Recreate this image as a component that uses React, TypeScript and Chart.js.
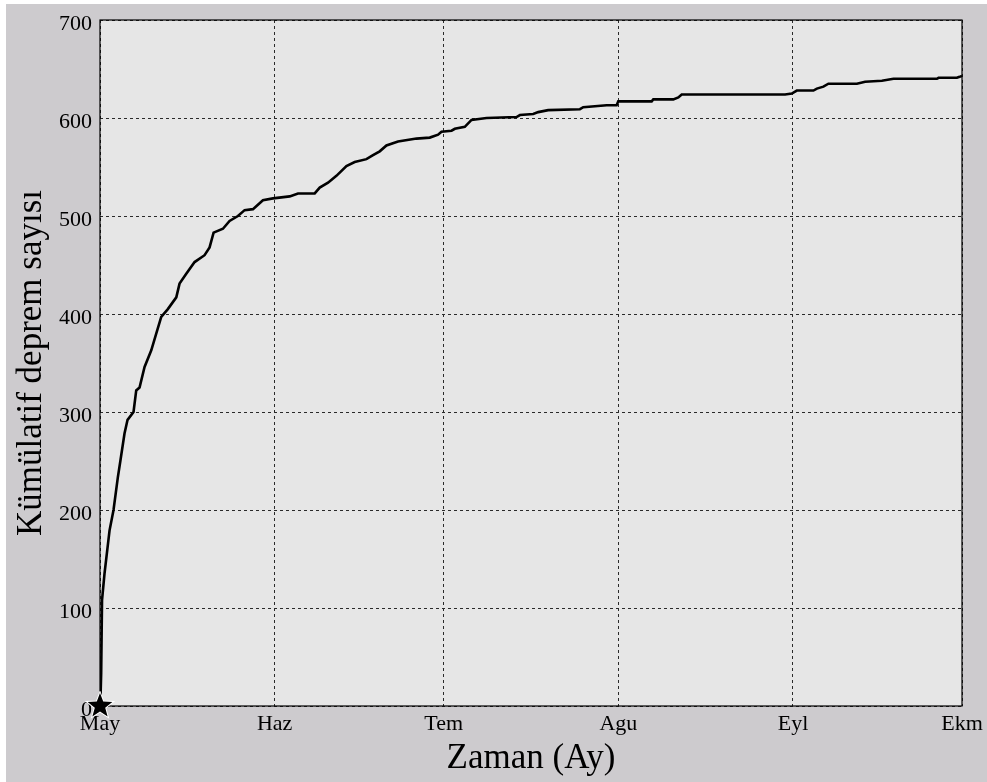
import React, { useEffect, useRef } from "react";
import { Chart, registerables } from "chart.js";

Chart.register(...registerables);

// Days elapsed since 1 May and cumulative number of earthquakes
const dayOffsets = [
  0, 0.1, 0.21, 0.36, 0.8, 1.69, 2.4, 3.16, 3.64, 4.35, 4.89, 5.95, 6.43, 7.02, 7.91,
  9.1, 9.98, 10.87, 12.04, 13.54, 14.12, 15.31, 16.79, 18.56, 19.45, 20.16, 21.82, 23.0,
  24.48, 25.67, 27.15, 28.92, 30.7, 33.67, 35.14, 38.11, 39.0, 40.47, 41.96, 43.74, 45.21,
  47.29, 48.46, 49.65, 50.84, 52.9, 56.17, 58.53, 60.01, 60.61, 62.39, 62.98, 64.75, 65.94,
  68.61, 73.94, 74.53, 76.89, 77.78, 79.55, 85.18, 85.77, 89.93, 91.7, 91.99, 97.92, 98.21,
  101.76, 102.65, 103.25, 121.6, 122.79, 123.68, 126.63, 127.24, 128.4, 129.29, 134.34,
  135.81, 138.78, 140.84, 148.55, 148.83, 152.1, 152.57, 153,
];
const cumulativeCounts = [
  0, 10, 34, 108, 135, 179, 200, 233, 251, 278, 292, 300, 322, 325, 346, 363, 380, 397, 405,
  417, 431, 441, 453, 460, 468, 483, 487, 495, 500, 506, 507, 516, 518, 520, 523, 523, 529,
  534, 541, 551, 555, 558, 562, 566, 572, 576, 579, 580, 583, 586, 587, 589, 591, 598, 600,
  601, 603, 604, 606, 608, 609, 611, 613, 613, 617, 617, 619, 619, 621, 624, 624, 625, 628,
  628, 630, 632, 635, 635, 637, 638, 640, 640, 641, 641, 642, 643,
];

// Main shock marker
const mainShockDay = [0];
const mainShockCount = [0];

// Month boundaries (days since 1 May) and their labels
const monthDays = [0, 31, 61, 92, 123, 153];
const monthLabels = ["May", "Haz", "Tem", "Agu", "Eyl", "Ekm"];

const yMin = 0;
const yMax = 700;
const yStep = 100;

const SERIF = "'Liberation Serif', 'Times New Roman', serif";
const OUTER_BG = "#cdcbce";
const PLOT_BG = "#e6e6e6";

function makeStar(size: number): HTMLCanvasElement {
  const c = document.createElement("canvas");
  c.width = size;
  c.height = size;
  const g = c.getContext("2d")!;
  const cx = size / 2;
  const cy = size / 2;
  const outer = size / 2 - 2;
  const inner = outer * 0.42;
  g.beginPath();
  for (let i = 0; i < 10; i++) {
    const r = i % 2 === 0 ? outer : inner;
    const a = -Math.PI / 2 + (i * Math.PI) / 5;
    const px = cx + r * Math.cos(a);
    const py = cy + r * Math.sin(a);
    if (i === 0) g.moveTo(px, py);
    else g.lineTo(px, py);
  }
  g.closePath();
  g.lineWidth = 2;
  g.strokeStyle = "#ffffff";
  g.stroke();
  g.fillStyle = "#000000";
  g.fill();
  return c;
}

const panelPlugin = {
  id: "panel",
  beforeDraw(chart: any) {
    const { ctx, chartArea, width, height } = chart;
    ctx.save();
    ctx.fillStyle = OUTER_BG;
    ctx.fillRect(0, 0, width, height);
    ctx.fillStyle = PLOT_BG;
    ctx.fillRect(chartArea.left, chartArea.top, chartArea.right - chartArea.left, chartArea.bottom - chartArea.top);
    ctx.restore();
  },
  beforeDatasetsDraw(chart: any) {
    const { ctx, chartArea } = chart;
    ctx.save();
    ctx.strokeStyle = "#000000";
    ctx.lineWidth = 1.2;
    ctx.setLineDash([]);
    ctx.strokeRect(chartArea.left, chartArea.top, chartArea.right - chartArea.left, chartArea.bottom - chartArea.top);
    ctx.restore();
  },
};

export default function App() {
  const canvasRef = useRef<HTMLCanvasElement | null>(null);

  useEffect(() => {
    if (!canvasRef.current) return;
    const star = makeStar(30);
    const chart = new Chart(canvasRef.current, {
      type: "line",
      data: {
        datasets: [
          {
            label: "Kümülatif deprem sayısı",
            data: dayOffsets.map((d, i) => ({ x: d, y: cumulativeCounts[i] })),
            borderColor: "#000000",
            borderWidth: 2.6,
            pointRadius: 0,
            tension: 0,
            fill: false,
            order: 2,
          },
          {
            label: "Ana şok",
            data: mainShockDay.map((d, i) => ({ x: d, y: mainShockCount[i] })),
            showLine: false,
            pointStyle: star as any,
            pointRadius: 15,
            clip: false as any,
            order: 1,
          },
        ],
      },
      plugins: [panelPlugin],
      options: {
        animation: false,
        responsive: false,
        maintainAspectRatio: false,
        devicePixelRatio: 1,
        layout: { padding: { top: 16, right: 25, left: 0, bottom: 0 } },
        plugins: {
          legend: { display: false },
          tooltip: { enabled: false },
        },
        scales: {
          x: {
            type: "linear",
            min: monthDays[0],
            max: monthDays[monthDays.length - 1],
            afterBuildTicks(scale: any) {
              scale.ticks = monthDays.map((v) => ({ value: v }));
            },
            afterFit(scale: any) {
              scale.height = 76;
              scale.paddingLeft = 0;
              scale.paddingRight = 0;
            },
            ticks: {
              autoSkip: false,
              maxRotation: 0,
              padding: 5,
              color: "#000000",
              font: { family: SERIF, size: 22 },
              callback: (v: any) => {
                const idx = monthDays.indexOf(Number(v));
                return idx >= 0 ? monthLabels[idx] : "";
              },
            },
            grid: {
              color: "#2a2a2a",
              lineWidth: 1,
              drawTicks: false,
            },
            border: { display: false, dash: [3, 3] },
            title: {
              display: true,
              text: "Zaman (Ay)",
              color: "#000000",
              font: { family: SERIF, size: 35 },
              padding: { top: 0, bottom: 2 },
            },
          },
          y: {
            min: yMin,
            max: yMax,
            ticks: {
              stepSize: yStep,
              padding: 8,
              labelOffset: 4,
              color: "#000000",
              font: { family: SERIF, size: 22 },
            },
            afterFit(scale: any) {
              scale.width = 94;
              scale.paddingTop = 0;
              scale.paddingBottom = 0;
            },
            grid: {
              color: "#2a2a2a",
              lineWidth: 1,
              drawTicks: false,
            },
            border: { display: false, dash: [3, 3] },
            title: {
              display: true,
              text: "Kümülatif deprem sayısı",
              color: "#000000",
              font: { family: SERIF, size: 35 },
              padding: { top: 5, bottom: 0 },
            },
          },
        },
      } as any,
    });
    return () => chart.destroy();
  }, []);

  return (
    <div style={{ position: "fixed", left: 0, top: 0, width: 987, height: 782, background: "#ffffff" }}>
      <canvas
        ref={canvasRef}
        width={981}
        height={778}
        style={{ position: "absolute", left: 6, top: 4, width: 981, height: 778 }}
      />
    </div>
  );
}
